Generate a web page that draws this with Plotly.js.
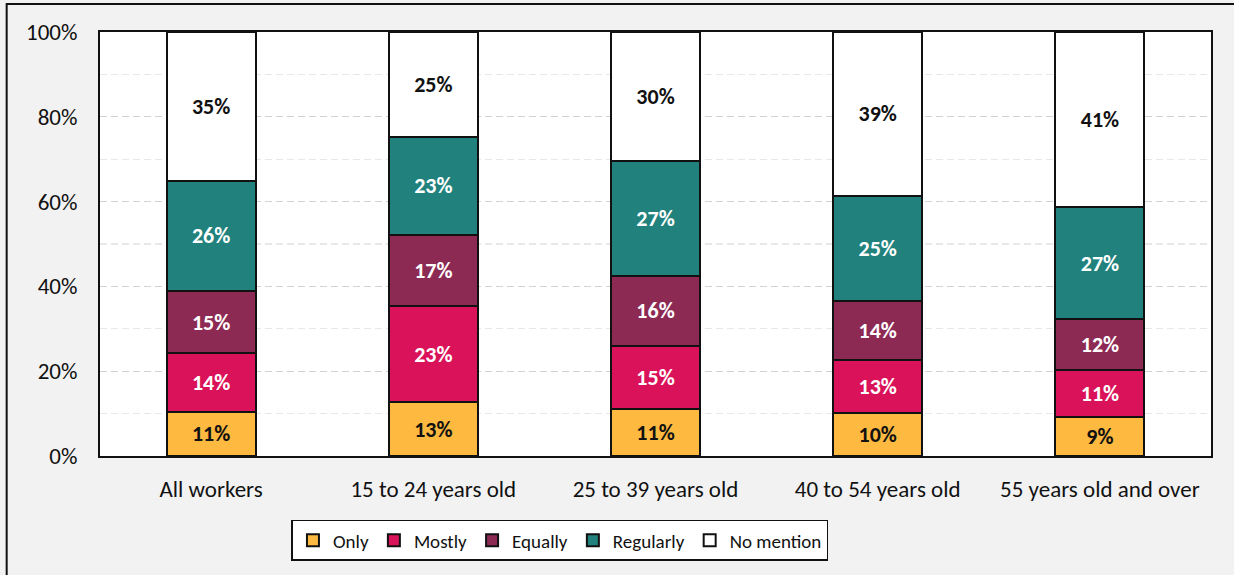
<!DOCTYPE html>
<html>
<head>
<meta charset="utf-8">
<script src="https://cdn.plot.ly/plotly-3.0.1.min.js"></script>
<style>html,body{margin:0;padding:0;background:#f2f2f2;}#chart{width:1234px;height:575px;}</style>
</head>
<body>
<div id="chart"></div>
<script>
const categories = ["All workers", "15 to 24 years old", "25 to 39 years old", "40 to 54 years old", "55 years old and over"];
const seriesNames = ["Only", "Mostly", "Equally", "Regularly", "No mention"];
const onlyVals = [10.4, 12.7, 11.1, 10.1, 9.1];
const mostlyVals = [13.9, 22.7, 14.9, 12.6, 11.3];
const equallyVals = [14.6, 16.7, 16.5, 13.8, 11.8];
const regularlyVals = [26.0, 23.2, 27.1, 24.8, 26.6];
const noMentionVals = [35.1, 24.7, 30.4, 38.8, 41.2];
const onlyLabels = ["11%", "13%", "11%", "10%", "9%"];
const mostlyLabels = ["14%", "23%", "15%", "13%", "11%"];
const equallyLabels = ["15%", "17%", "16%", "14%", "12%"];
const regularlyLabels = ["26%", "23%", "27%", "25%", "27%"];
const noMentionLabels = ["35%", "25%", "30%", "39%", "41%"];
const yTickVals = [0, 20, 40, 60, 80, 100];
const yTickText = ["0%", "20%", "40%", "60%", "80%", "100%"];

const FONT = "Calibri, Carlito, Lato, sans-serif";
const colors = ["#FDB940", "#DA1259", "#8D2A54", "#21827D", "#FFFFFF"];
const textColors = ["#111111", "#FFFFFF", "#FFFFFF", "#FFFFFF", "#111111"];
const vals = [onlyVals, mostlyVals, equallyVals, regularlyVals, noMentionVals];
const labels = [onlyLabels, mostlyLabels, equallyLabels, regularlyLabels, noMentionLabels];

const traces = seriesNames.map((name, i) => ({
  type: "bar",
  name: name,
  x: categories,
  y: vals[i],
  text: labels[i],
  textposition: "inside",
  insidetextanchor: "middle",
  textangle: 0,
  constraintext: "none",
  textfont: {family: FONT, size: 22, color: textColors[i], weight: "bold"},
  marker: {color: colors[i], line: {color: "#111111", width: 2}},
  width: 0.4,
  hoverinfo: "x+y+name"
}));

const layout = {
  width: 1234,
  height: 575,
  barmode: "stack",
  paper_bgcolor: "#f2f2f2",
  plot_bgcolor: "#ffffff",
  margin: {l: 100, r: 23, t: 32, b: 119},
  font: {family: FONT, size: 22, color: "#111111"},
  showlegend: true,
  legend: {
    orientation: "h",
    x: 0.414, xanchor: "center",
    y: -0.199, yanchor: "middle",
    bgcolor: "#ffffff",
    bordercolor: "#111111",
    borderwidth: 1.5,
    traceorder: "normal",
    font: {family: FONT, size: 19, color: "#111111"},
    itemclick: false
  },
  xaxis: {
    showline: true, mirror: true, linecolor: "#111111", linewidth: 2,
    showgrid: false, zeroline: false, ticks: "",
    ticklabelstandoff: 11,
    tickfont: {family: FONT, size: 23, color: "#111111"}
  },
  yaxis: {
    range: [0, 100],
    tickvals: yTickVals, ticktext: yTickText,
    showline: true, mirror: true, linecolor: "#111111", linewidth: 2,
    showgrid: true, gridcolor: "#d2d2d2", griddash: "7px,4px", gridwidth: 1.2,
    zeroline: false, ticks: "",
    ticklabelstandoff: 16,
    tickfont: {family: FONT, size: 23, color: "#111111"},
    minor: {dtick: 10, showgrid: true, gridcolor: "#e8e8e8", griddash: "7px,4px", gridwidth: 1.2}
  },
  shapes: [{
    type: "rect", xref: "paper", yref: "paper",
    x0: -0.084, x1: 1.03, y0: -0.3, y1: 1.066,
    line: {color: "#111111", width: 2}, fillcolor: "rgba(0,0,0,0)", layer: "below"
  }]
};

Plotly.newPlot("chart", traces, layout, {displayModeBar: false, staticPlot: true});
</script>
</body>
</html>
